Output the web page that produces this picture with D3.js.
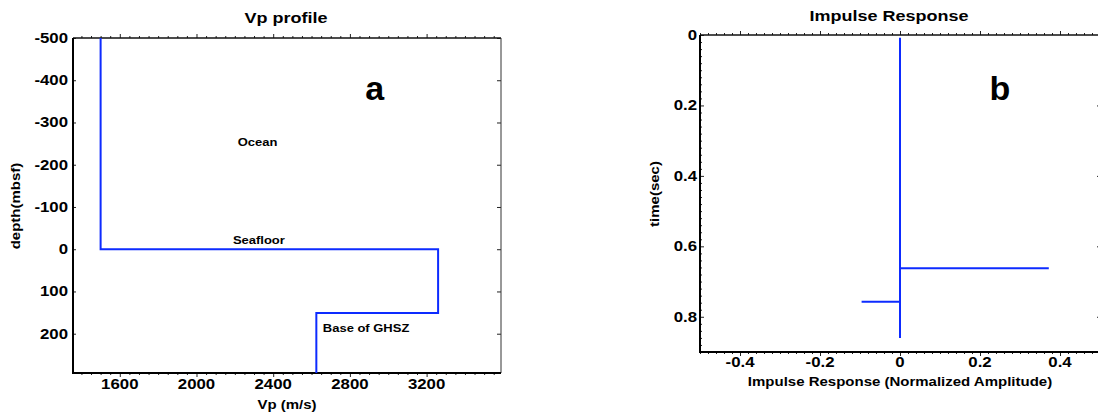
<!DOCTYPE html>
<html><head><meta charset="utf-8">
<script src="https://cdn.jsdelivr.net/npm/d3@7"></script>
<style>
body{margin:0;background:#fff}
svg{display:block}
text{font-family:"Liberation Sans",Arial,Helvetica,sans-serif;font-weight:bold;fill:#000}
</style>
</head><body>
<svg id="c" width="1098" height="419"></svg>
<script>
// ---- data ----
const profileDepth = [-500, 0, 0, 151, 151, 293];
const profileVp    = [1500, 1500, 3260, 3260, 2625, 2625];
const traceTime  = [0.008, 0.86];
const spikeTime  = [0.662, 0.757];
const spikeAmp   = [0.372, -0.096];
const vpTicks    = [1600, 2000, 2400, 2800, 3200];
const depthTicks = [-500, -400, -300, -200, -100, 0, 100, 200];
const ampTicks   = [-0.4, -0.2, 0, 0.2, 0.4];
const timeTicks  = [0, 0.2, 0.4, 0.6, 0.8];
const panelTitles = ["Vp profile", "Impulse Response"];
const axisTitles  = ["Vp (m/s)", "depth(mbsf)", "Impulse Response (Normalized Amplitude)", "time(sec)"];
const annotations = ["Ocean", "Seafloor", "Base of GHSZ"];
const panelLetters = ["a", "b"];

const svg = d3.select("#c");
const BLUE = "#0d2bff";

function T(g, x, y, s, o) {
  o = o || {};
  g.append("text")
    .attr("transform", `translate(${x},${y})${o.rot ? ` rotate(${o.rot})` : ""} scale(${o.sx || 1},1)`)
    .attr("text-anchor", o.anchor || "middle")
    .style("font-size", (o.size || 13) + "px")
    .text(s);
}

function ticksAxis(g, axisFn, scale, values, size, transform) {
  g.append("g").attr("transform", transform)
    .call(axisFn(scale).tickValues(values).tickSizeInner(size).tickSizeOuter(0).tickFormat(""))
    .call(a => a.select(".domain").remove())
    .call(a => a.selectAll(".tick line").attr("stroke", "#222").attr("stroke-width", 1));
}

// ---------- Panel a ----------
const A = {x0: 73, x1: 501, y0: 38, y1: 373};
const xa = d3.scaleLinear().domain([1356, 3588]).range([A.x0, A.x1]);
const ya = d3.scaleLinear().domain([-500, 293]).range([A.y0, A.y1]);
const ga = svg.append("g");

const vpMinor = d3.range(1400, 3588, 50).filter(v => v % 400 !== 0);
ticksAxis(ga, d3.axisTop, xa, vpMinor, -2, `translate(0,${A.y1})`);
ticksAxis(ga, d3.axisTop, xa, vpTicks, -4, `translate(0,${A.y1})`);
ticksAxis(ga, d3.axisBottom, xa, vpMinor, -2, `translate(0,${A.y0})`);
ticksAxis(ga, d3.axisBottom, xa, vpTicks, -4, `translate(0,${A.y0})`);
ticksAxis(ga, d3.axisLeft, ya, depthTicks, -3, `translate(${A.x0},0)`);
ticksAxis(ga, d3.axisRight, ya, depthTicks, -4, `translate(${A.x1},0)`);

// frame
ga.append("line").attr("x1", A.x0).attr("x2", A.x1).attr("y1", A.y0).attr("y2", A.y0).attr("stroke", "#111").attr("stroke-width", 1.3);
ga.append("line").attr("x1", A.x1).attr("x2", A.x1).attr("y1", A.y0).attr("y2", A.y1).attr("stroke", "#333").attr("stroke-width", 1);
ga.append("line").attr("x1", A.x0).attr("x2", A.x0).attr("y1", A.y0).attr("y2", A.y1 + 1).attr("stroke", "#000").attr("stroke-width", 2);
ga.append("line").attr("x1", A.x0 - 1).attr("x2", A.x1).attr("y1", A.y1).attr("y2", A.y1).attr("stroke", "#000").attr("stroke-width", 2);

ga.append("path")
  .datum(d3.range(profileVp.length))
  .attr("fill", "none").attr("stroke", BLUE).attr("stroke-width", 2)
  .attr("d", d3.line().x(i => xa(profileVp[i])).y(i => ya(profileDepth[i])));

vpTicks.forEach(v => T(ga, xa(v), 389, String(v), {size: 14, sx: 1.2}));
depthTicks.forEach(v => T(ga, 68, ya(v) + 5, String(v), {size: 14, sx: 1.2, anchor: "end"}));

T(ga, 286, 22.5, panelTitles[0], {size: 15, sx: 1.2});
T(ga, 287, 408.5, axisTitles[0], {size: 12.5, sx: 1.2});
T(ga, 19.5, 206, axisTitles[1], {size: 12.5, sx: 1.2, rot: -90});

T(ga, xa(2215), ya(-244), annotations[0], {size: 11, sx: 1.18, anchor: "start"});
T(ga, xa(2190), ya(-12), annotations[1], {size: 11, sx: 1.18, anchor: "start"});
T(ga, xa(2659), ya(197), annotations[2], {size: 11, sx: 1.18, anchor: "start"});
T(ga, xa(2930), ya(-353), panelLetters[0], {size: 34});

// ---------- Panel b ----------
const B = {x0: 700, x1: 1100, y0: 35, y1: 352};
const xb = d3.scaleLinear().domain([-0.5, 0.5]).range([B.x0, B.x1]);
const yb = d3.scaleLinear().domain([0, 0.9]).range([B.y0, B.y1]);
const gb = svg.append("g");

const ampMinor = d3.range(-50, 51, 2).map(v => v / 100).filter(v => Math.abs(Math.round(v * 100)) % 20 !== 0);
const timeMinor = d3.range(2, 90, 2).map(v => v / 100).filter(v => Math.round(v * 100) % 20 !== 0);
ticksAxis(gb, d3.axisTop, xb, ampMinor, -2, `translate(0,${B.y1})`);
ticksAxis(gb, d3.axisTop, xb, ampTicks, -4, `translate(0,${B.y1})`);
ticksAxis(gb, d3.axisBottom, xb, ampMinor, -2, `translate(0,${B.y0})`);
ticksAxis(gb, d3.axisBottom, xb, ampTicks, -4, `translate(0,${B.y0})`);
ticksAxis(gb, d3.axisLeft, yb, timeMinor, -2, `translate(${B.x0},0)`);
ticksAxis(gb, d3.axisLeft, yb, timeTicks, -4, `translate(${B.x0},0)`);
ticksAxis(gb, d3.axisRight, yb, timeTicks.slice(1), -3, `translate(${B.x1},0)`);

gb.append("line").attr("x1", B.x0).attr("x2", B.x1).attr("y1", B.y0).attr("y2", B.y0).attr("stroke", "#111").attr("stroke-width", 1.3);
gb.append("line").attr("x1", B.x0).attr("x2", B.x0).attr("y1", B.y0).attr("y2", B.y1 + 1).attr("stroke", "#000").attr("stroke-width", 2);
gb.append("line").attr("x1", B.x0 - 1).attr("x2", B.x1).attr("y1", B.y1).attr("y2", B.y1).attr("stroke", "#000").attr("stroke-width", 2);

gb.append("line")
  .attr("x1", xb(0)).attr("x2", xb(0))
  .attr("y1", yb(traceTime[0])).attr("y2", yb(traceTime[1]))
  .attr("stroke", BLUE).attr("stroke-width", 2);
gb.selectAll("line.spike").data(spikeTime).enter().append("line").attr("class", "spike")
  .attr("x1", xb(0)).attr("x2", (d, i) => xb(spikeAmp[i]))
  .attr("y1", d => yb(d)).attr("y2", d => yb(d))
  .attr("stroke", BLUE).attr("stroke-width", 2);

ampTicks.forEach(v => T(gb, xb(v), 367, v === 0 ? "0" : v.toFixed(1), {size: 14, sx: 1.2}));
timeTicks.forEach(v => T(gb, 697, yb(v) + 5, v === 0 ? "0" : v.toFixed(1), {size: 14, sx: 1.2, anchor: "end"}));

T(gb, 889, 21, panelTitles[1], {size: 15, sx: 1.2});
T(gb, 900, 385.5, axisTitles[2], {size: 12.5, sx: 1.2});
T(gb, 659, 194, axisTitles[3], {size: 12.5, sx: 1.2, rot: -90});
T(gb, xb(0.25), yb(0.185), panelLetters[1], {size: 34});
</script>
</body></html>
